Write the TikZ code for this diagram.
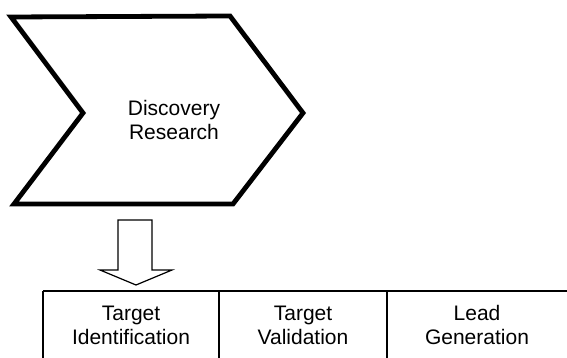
\documentclass[tikz,border=0pt]{standalone}
\usepackage{fontspec}
\setmainfont{Liberation Sans}
\begin{document}
\begin{tikzpicture}[x=1pt,y=1pt,
  lbl/.style={align=center,font=\fontsize{21}{24}\selectfont,inner sep=0pt,anchor=base},
  chev/.style={line width=4.8pt,line join=miter,miter limit=10},
  boxline/.style={line width=1.4pt},
  blockarrow/.style={line width=1.2pt,line join=miter}]
\useasboundingbox (0,0) rectangle (567,358);

% Discovery Research chevron
\coordinate (c1) at (11,341);
\coordinate (c2) at (230,342);
\coordinate (c3) at (303,245);
\coordinate (c4) at (233,154);
\coordinate (c5) at (14,154);
\coordinate (c6) at (83,245);
\draw[chev] (c1) -- (c2) -- (c3) -- (c4) -- (c5) -- (c6) -- cycle;
% the base anchor sits on the last line's baseline
\node[lbl] (disc) at (174,218) {Discovery\\Research};

% hollow block arrow down to the stages
\coordinate (a1) at (118,138);
\coordinate (a2) at (152,138);
\coordinate (a3) at (152,88);
\coordinate (a4) at (172,88);
\coordinate (tip) at (136,73);
\coordinate (a6) at (100,88);
\coordinate (a7) at (118,88);
\draw[blockarrow] (a1) -- (a2) -- (a3) -- (a4) -- (tip) -- (a6) -- (a7) -- cycle;

% stage row
\coordinate (t0) at (43,67);
\coordinate (t1) at (219,67);
\coordinate (t2) at (387,67);
\coordinate (t3) at (567,67);
\draw[boxline] (t0) -- (t3);
\draw[boxline] (t0) -- (43,0);
\draw[boxline] (t1) -- (219,0);
\draw[boxline] (t2) -- (387,0);

\node[lbl] (tid) at (131,13) {Target\\Identification};
\node[lbl] (tval) at (303,13) {Target\\Validation};
\node[lbl] (lead) at (477,13) {Lead\\Generation};
\end{tikzpicture}
\end{document}
